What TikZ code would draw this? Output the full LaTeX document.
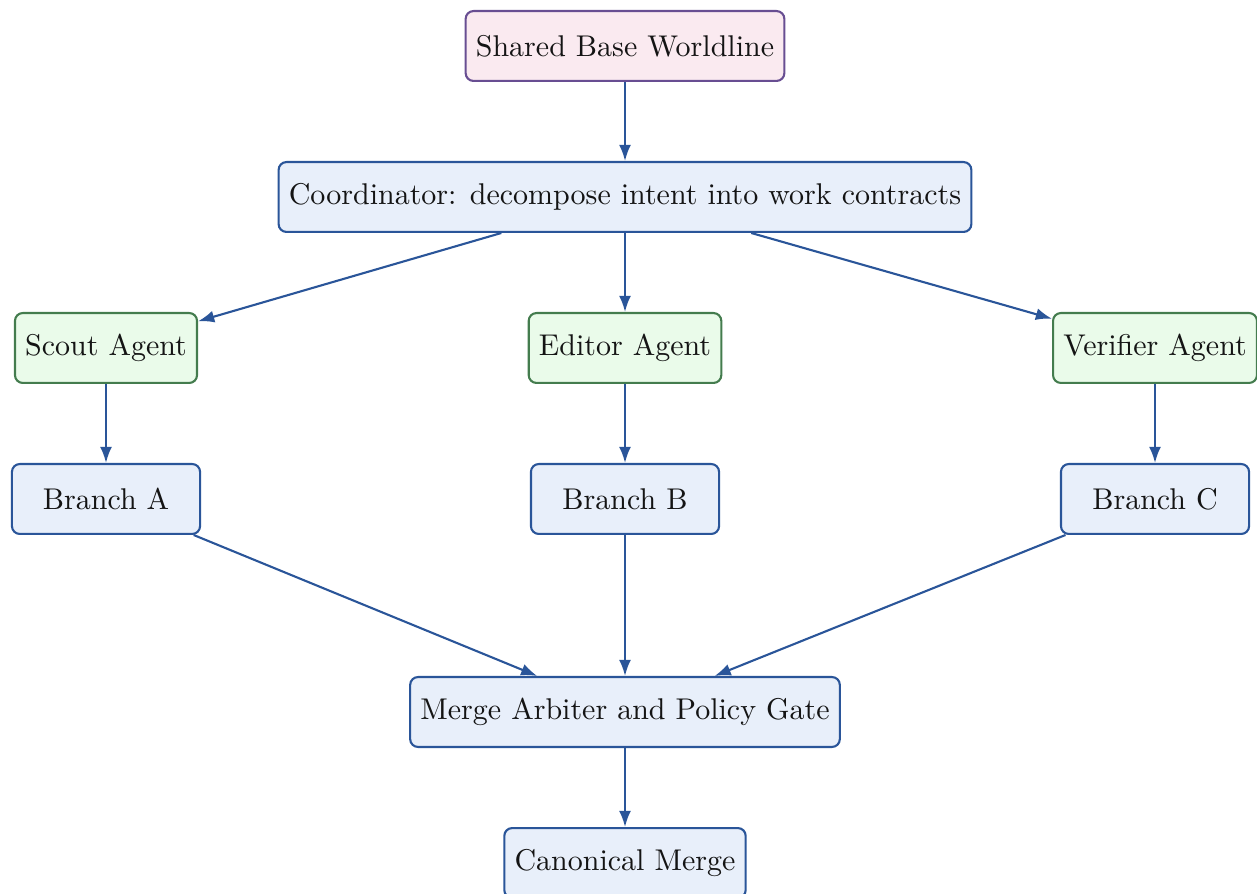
\documentclass[tikz,border=0pt]{standalone}
\usetikzlibrary{arrows.meta}
\definecolor{lineblue}{RGB}{42,85,153}
\definecolor{fillblue}{RGB}{232,239,250}
\definecolor{linegreen}{RGB}{68,124,78}
\definecolor{fillgreen}{RGB}{234,251,234}
\definecolor{linepurple}{RGB}{104,78,146}
\definecolor{fillpink}{RGB}{250,234,240}
\tikzset{
  box/.style={draw=lineblue, fill=fillblue, line width=0.7pt, rounded corners=2.6pt,
    minimum height=23.3pt, inner xsep=3.4pt, text=black!92},
  branchbox/.style={box, minimum width=62.7pt},
  agentbox/.style={box, draw=linegreen, fill=fillgreen},
  basebox/.style={box, draw=linepurple, fill=fillpink},
  conn/.style={draw=lineblue, line width=0.7pt, -{Latex[length=5.4pt,width=4pt]}}
}
\begin{document}
\begin{tikzpicture}[x=0.33333pt, y=-0.33333pt]
\useasboundingbox (0,0) rectangle (1257,894);
\node[basebox] (base) at (625,46) {Shared Base Worldline};
\node[box] (coord) at (625,197) {Coordinator: decompose intent into work contracts};
\node[agentbox] (scout) at (106,348) {Scout Agent};
\node[agentbox] (editor) at (625,348) {Editor Agent};
\node[agentbox] (verifier) at (1155,348) {Verifier Agent};
\node[branchbox] (ba) at (106,499) {Branch A};
\node[branchbox] (bb) at (625,499) {Branch B};
\node[branchbox] (bc) at (1155,499) {Branch C};
\node[box] (merge) at (625,712) {Merge Arbiter and Policy Gate};
\node[box] (canon) at (625,863) {Canonical Merge};
\draw[conn] (base) -- (coord);
\draw[conn] (coord) -- (scout);
\draw[conn] (coord) -- (editor);
\draw[conn] (coord) -- (verifier);
\draw[conn] (scout) -- (ba);
\draw[conn] (editor) -- (bb);
\draw[conn] (verifier) -- (bc);
\draw[conn] (ba) -- (merge);
\draw[conn] (bb) -- (merge);
\draw[conn] (bc) -- (merge);
\draw[conn] (merge) -- (canon);
\end{tikzpicture}
\end{document}
